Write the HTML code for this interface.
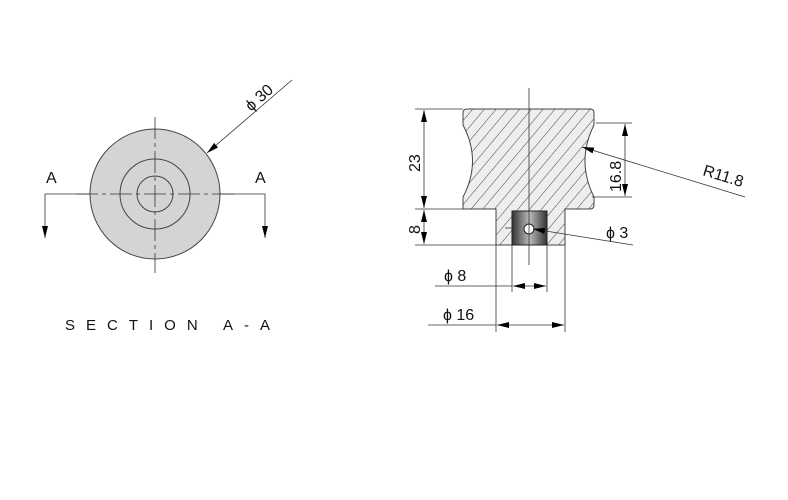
<!DOCTYPE html>
<html><head><meta charset="utf-8"><style>
html,body{margin:0;padding:0;background:#fff;}
svg{display:block;}
text{font-family:"Liberation Sans",sans-serif;fill:#111;}
</style></head><body>
<svg width="788" height="500" viewBox="0 0 788 500" xmlns="http://www.w3.org/2000/svg">
<defs>
<pattern id="h" patternUnits="userSpaceOnUse" width="9" height="9" patternTransform="rotate(40)">
<rect width="9" height="9" fill="#eeeeee"/>
<line x1="0" y1="0" x2="0" y2="9" stroke="#444" stroke-width="1"/>
</pattern>
<linearGradient id="g" x1="0" x2="1" y1="0" y2="0">
<stop offset="0" stop-color="#333"/><stop offset="0.5" stop-color="#bbb"/><stop offset="1" stop-color="#333"/>
</linearGradient>
<marker id="a" markerWidth="12" markerHeight="6" refX="12" refY="3" orient="auto" markerUnits="userSpaceOnUse">
<path d="M0,0 L12,3 L0,6 Z" fill="#000"/></marker>
</defs>

<circle cx="155" cy="194" r="65" fill="#d4d4d4" stroke="#444" stroke-width="1"/>
<circle cx="155" cy="194" r="35" fill="none" stroke="#444" stroke-width="1"/>
<circle cx="155" cy="194" r="18" fill="none" stroke="#444" stroke-width="1"/>
<line x1="76" y1="194" x2="234" y2="194" stroke="#333" stroke-width="0.8" stroke-dasharray="22,4,4,4"/>
<line x1="155" y1="117" x2="155" y2="273" stroke="#333" stroke-width="0.8" stroke-dasharray="22,4,4,4"/>
<polyline points="90,194 45,194 45,238" fill="none" stroke="#333" stroke-width="0.8" marker-end="url(#a)"/>
<polyline points="220,194 265,194 265,238" fill="none" stroke="#333" stroke-width="0.8" marker-end="url(#a)"/>
<text x="46" y="183" font-size="16">A</text>
<text x="255" y="183" font-size="16">A</text>
<line x1="292" y1="80" x2="207" y2="153" stroke="#333" stroke-width="0.8" marker-end="url(#a)"/>
<text x="0" y="0" font-size="16" transform="translate(251,112) rotate(-42)">ϕ 30</text>
<text x="65" y="330" font-size="15" letter-spacing="11">SECTION A-A</text>

<path d="M467,109 L590,109 Q594,109 594,113 L594,125 Q576,161 594,197 L594,205 Q594,209 590,209 L565,209 L565,245 L496,245 L496,209 L463,209 L463,197 Q482,161 463,125 L463,113 Q463,109 467,109 Z" fill="url(#h)" stroke="#444" stroke-width="1"/>
<rect x="512" y="211" width="35" height="34" fill="url(#g)" stroke="#222" stroke-width="1"/>
<circle cx="529" cy="229" r="5" fill="#fff" stroke="#222" stroke-width="1"/>
<line x1="529" y1="88" x2="529" y2="265" stroke="#333" stroke-width="0.8"/>
<line x1="505" y1="228" x2="512" y2="228" stroke="#333" stroke-width="0.8"/>
<g stroke="#333" stroke-width="0.8">
<line x1="415" y1="109" x2="463" y2="109"/>
<line x1="415" y1="209" x2="463" y2="209"/>
<line x1="415" y1="245" x2="496" y2="245"/>
<line x1="596" y1="123" x2="632" y2="123"/>
<line x1="592" y1="197" x2="632" y2="197"/>
<line x1="512" y1="245" x2="512" y2="292"/>
<line x1="547" y1="245" x2="547" y2="292"/>
<line x1="496" y1="245" x2="496" y2="332"/>
<line x1="565" y1="245" x2="565" y2="332"/>
</g>
<g stroke="#333" stroke-width="0.8" fill="none">
<line x1="424" y1="160" x2="424" y2="110" marker-end="url(#a)"/>
<line x1="424" y1="160" x2="424" y2="208" marker-end="url(#a)"/>
<line x1="424" y1="227" x2="424" y2="210" marker-end="url(#a)"/>
<line x1="424" y1="227" x2="424" y2="244" marker-end="url(#a)"/>
<line x1="625" y1="160" x2="625" y2="124" marker-end="url(#a)"/>
<line x1="625" y1="160" x2="625" y2="196" marker-end="url(#a)"/>
<line x1="745" y1="197" x2="582" y2="147" marker-end="url(#a)"/>
<line x1="633" y1="245" x2="533" y2="229" marker-end="url(#a)"/>
<line x1="435" y1="286" x2="512" y2="286"/>
<line x1="529" y1="286" x2="513" y2="286" marker-end="url(#a)"/>
<line x1="529" y1="286" x2="546" y2="286" marker-end="url(#a)"/>
<line x1="428" y1="325" x2="496" y2="325"/>
<line x1="530" y1="325" x2="497" y2="325" marker-end="url(#a)"/>
<line x1="530" y1="325" x2="564" y2="325" marker-end="url(#a)"/>
</g>
<text font-size="16" transform="translate(420,172) rotate(-90)">23</text>
<text font-size="16" transform="translate(420,234) rotate(-90)">8</text>
<text font-size="16" transform="translate(621,192) rotate(-90)">16.8</text>
<text font-size="16" transform="translate(702,175) rotate(17)">R11.8</text>
<text x="606" y="238" font-size="16">ϕ 3</text>
<text x="444" y="281" font-size="16">ϕ 8</text>
<text x="443" y="320" font-size="16">ϕ 16</text>
</svg>
</body></html>
